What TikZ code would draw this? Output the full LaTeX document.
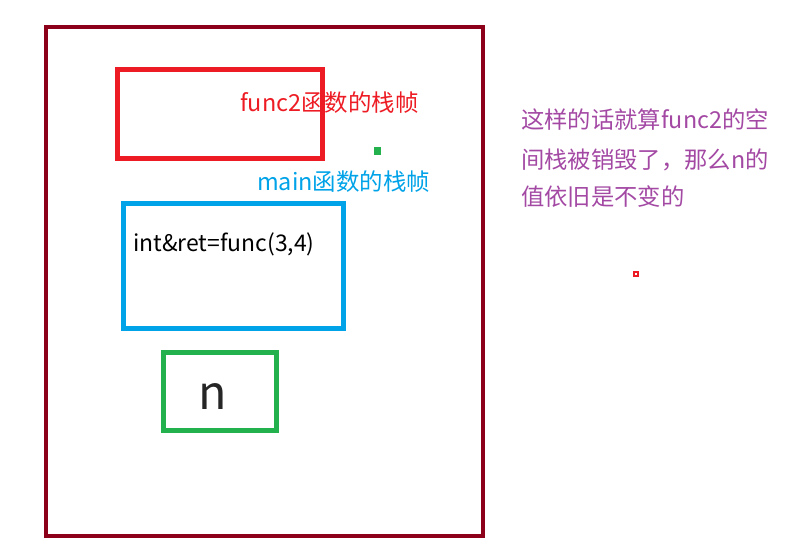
\documentclass[tikz,border=0pt]{standalone}
\usepackage{fontspec}
\setmainfont{Noto Sans CJK SC}
\definecolor{outerred}{RGB}{140,0,26}
\definecolor{boxred}{RGB}{237,28,36}
\definecolor{boxblue}{RGB}{0,162,232}
\definecolor{boxgreen}{RGB}{34,177,76}
\definecolor{notepurple}{RGB}{163,73,164}
\begin{document}
\begin{tikzpicture}[x=0.75pt,y=-0.75pt,
  frame/.style={draw, inner sep=0pt, outer sep=0pt},
  label/.style={inner sep=0pt, anchor=west, font=\fontsize{17.6pt}{21pt}\selectfont}]
\useasboundingbox (0,0) rectangle (808,545);
\node[frame, draw=outerred, line width=3pt, minimum width=437*0.75pt, minimum height=509*0.75pt] (outer) at (264,282) {};
\node[frame, draw=boxred, line width=3.75pt, minimum width=205*0.75pt, minimum height=89*0.75pt] (f2box) at (220,114) {};
\node[frame, draw=boxblue, line width=3.75pt, minimum width=220*0.75pt, minimum height=125*0.75pt] (mainbox) at (233.5,266) {};
\node[frame, draw=boxgreen, line width=3.75pt, minimum width=113*0.75pt, minimum height=78*0.75pt] (nbox) at (220,391.5) {};
\node[label, text=boxred] (f2label) at (240,103) {func2函数的栈帧};
\node[label, text=boxblue] (mainlabel) at (257,182) {main函数的栈帧};
\node[label, font=\fontsize{17.2pt}{20pt}\selectfont, text=black] (code) at (133,244) {int\&ret=func(3,4)};
\node[inner sep=0pt, font=\fontsize{35pt}{40pt}\selectfont, text=black!85] (nvar) at (213,397) {n};
\node[frame, fill=boxgreen, draw=none, minimum width=7*0.75pt, minimum height=8*0.75pt] (gdot) at (377.5,151.5) {};
\node[frame, draw=boxred, line width=1.5pt, minimum width=4*0.75pt, minimum height=4*0.75pt] (rdot) at (636,274) {};
\node[label, font=\fontsize{17.5pt}{21pt}\selectfont, text=notepurple] (note1) at (521,120) {这样的话就算func2的空};
\node[label, font=\fontsize{17.5pt}{21pt}\selectfont, text=notepurple] (note2) at (521,160) {间栈被销毁了，那么n的};
\node[label, font=\fontsize{17.5pt}{21pt}\selectfont, text=notepurple] (note3) at (521,197) {值依旧是不变的};
\end{tikzpicture}
\end{document}
